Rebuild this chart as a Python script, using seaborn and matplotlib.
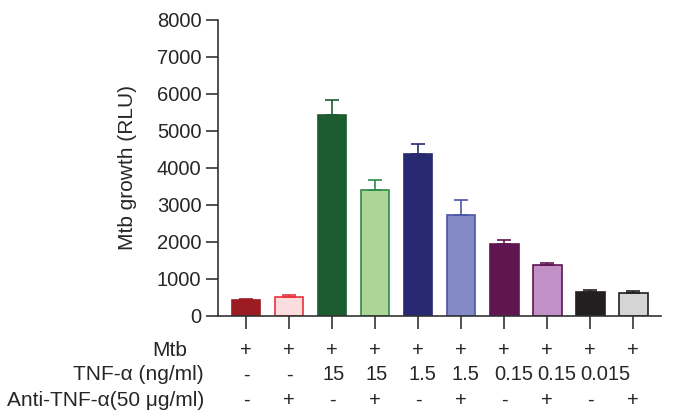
import matplotlib
matplotlib.use("Agg")
import matplotlib.pyplot as plt
import matplotlib.transforms as mtransforms
import seaborn as sns
import pandas as pd

# data
groups = ["G1", "G2", "G3", "G4", "G5", "G6", "G7", "G8", "G9", "G10"]
means = [425, 505, 5425, 3400, 4390, 2720, 1950, 1365, 645, 620]
errs = [25, 70, 420, 270, 250, 420, 115, 55, 45, 55]
fill_colors = ["#9b1b22", "#fbdcdf", "#1d5c30", "#acd597", "#272a70",
               "#838ac6", "#5e1550", "#c190c6", "#231f20", "#d5d5d5"]
edge_colors = ["#9b1b22", "#e8323c", "#1d5c30", "#2f8b4a", "#272a70",
               "#4b56a8", "#5e1550", "#5e1550", "#231f20", "#231f20"]

mtb_row = ["+", "+", "+", "+", "+", "+", "+", "+", "+", "+"]
tnf_row = ["-", "-", "15", "15", "1.5", "1.5", "0.15", "0.15", "0.015", ""]
anti_row = ["-", "+", "-", "+", "-", "+", "-", "+", "-", "+"]
row_labels = ["Mtb", "TNF-α (ng/ml)", "Anti-TNF-α(50 μg/ml)"]

yticks = [0, 1000, 2000, 3000, 4000, 5000, 6000, 7000, 8000]

sns.set_style("ticks")
plt.rcParams["font.family"] = ["Liberation Sans", "DejaVu Sans"]
plt.rcParams["font.size"] = 14.5
FS = 14.5

df = pd.DataFrame({"group": groups, "value": means})

fig = plt.figure(figsize=(6.76, 4.16), dpi=100)
ax = fig.add_axes([0.3225, 0.2404, 0.978 - 0.3225, 0.952 - 0.2404])

sns.barplot(data=df, x="group", y="value", hue="group", palette=fill_colors,
            legend=False, width=0.67, errorbar=None, ax=ax, saturation=1)

for patch, ec in zip(ax.patches, edge_colors):
    patch.set_edgecolor(ec)
    patch.set_linewidth(1.2)

# upper-only error bars
for i, (m, e, ec) in enumerate(zip(means, errs, edge_colors)):
    ax.errorbar(i, m, yerr=[[0], [e]], fmt="none", ecolor=ec,
                elinewidth=1.2, capsize=5, capthick=1.2, zorder=1)

ax.set_ylim(0, 8000)
ax.set_xlim(-0.65, 9.65)
ax.set_yticks(yticks)
ax.set_yticklabels([str(t) for t in yticks], fontsize=FS)
ax.set_xticks(range(len(groups)))
ax.set_xticklabels([])
ax.set_xlabel("")
ax.set_ylabel("Mtb growth (RLU)", fontsize=15, labelpad=14)
ax.tick_params(axis="both", direction="out", length=9, width=1.2, color="#333333", pad=3)
sns.despine(ax=ax)
for side in ["left", "bottom"]:
    ax.spines[side].set_linewidth(1.2)
    ax.spines[side].set_color("#333333")

# condition table under the bars
trans = ax.get_xaxis_transform()
row_y = [-0.115, -0.199, -0.284]
shift = mtransforms.ScaledTranslation(-10 / 100, 0, fig.dpi_scale_trans)
for row, y in zip([mtb_row, tnf_row, anti_row], row_y):
    for i, s in enumerate(row):
        if s in ("+", "-"):
            ax.text(i, y, s, transform=trans, ha="center", va="center", fontsize=FS)
        elif s:
            ax.text(i, y, s, transform=trans + shift, ha="left", va="center", fontsize=FS)

label_x = [187 / 676, 204 / 676, 204 / 676]
for lab, x, y in zip(row_labels, label_x, row_y):
    fy = 0.2404 + y * (0.952 - 0.2404)
    fig.text(x, fy, lab, ha="right", va="center", fontsize=15)

fig.savefig("out.png", dpi=100)
